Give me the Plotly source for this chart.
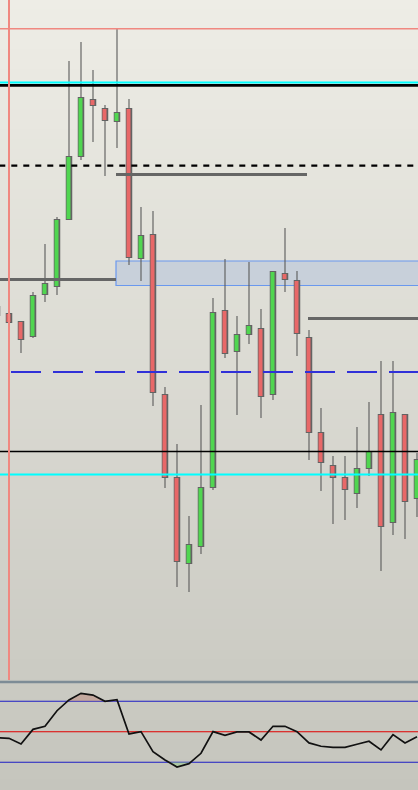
import numpy as np
import plotly.graph_objects as go

# ---------------- data ----------------
idx = list(range(36))
opens  = [1.2684, 1.2687, 1.2679, 1.2663, 1.2705, 1.2713, 1.2780, 1.2843, 1.2901, 1.2892,
          1.2878, 1.2892, 1.2741, 1.2766, 1.2606, 1.2523, 1.2436, 1.2453, 1.2512, 1.2690,
          1.2648, 1.2665, 1.2672, 1.2605, 1.2727, 1.2720, 1.2663, 1.2568, 1.2535, 1.2523,
          1.2506, 1.2531, 1.2586, 1.2477, 1.2586, 1.2501]
highs  = [1.2696, 1.2689, 1.2679, 1.2708, 1.2756, 1.2783, 1.2939, 1.2958, 1.2930, 1.2895,
          1.2972, 1.2901, 1.2793, 1.2789, 1.2613, 1.2556, 1.2484, 1.2595, 1.2702, 1.2741,
          1.2684, 1.2738, 1.2691, 1.2729, 1.2772, 1.2729, 1.2670, 1.2592, 1.2544, 1.2544,
          1.2573, 1.2598, 1.2639, 1.2639, 1.2586, 1.2547]
lows   = [1.2682, 1.2641, 1.2647, 1.2662, 1.2698, 1.2705, 1.2780, 1.2840, 1.2858, 1.2824,
          1.2852, 1.2735, 1.2719, 1.2594, 1.2512, 1.2413, 1.2408, 1.2446, 1.2510, 1.2642,
          1.2585, 1.2656, 1.2582, 1.2600, 1.2708, 1.2644, 1.2540, 1.2509, 1.2476, 1.2480,
          1.2492, 1.2524, 1.2429, 1.2465, 1.2461, 1.2483]
closes = [1.2694, 1.2677, 1.2660, 1.2705, 1.2717, 1.2781, 1.2844, 1.2903, 1.2894, 1.2879,
          1.2888, 1.2742, 1.2765, 1.2607, 1.2522, 1.2438, 1.2456, 1.2513, 1.2688, 1.2646,
          1.2666, 1.2675, 1.2603, 1.2729, 1.2720, 1.2666, 1.2567, 1.2537, 1.2522, 1.2510,
          1.2532, 1.2549, 1.2473, 1.2588, 1.2498, 1.2541]

osc = [46.1, 45.7, 42.0, 51.6, 53.6, 63.8, 70.9, 75.2, 74.1, 70.0,
       71.0, 48.6, 50.1, 37.0, 31.5, 26.9, 29.1, 35.9, 50.1, 47.7,
       49.9, 49.9, 44.6, 53.6, 53.6, 50.1, 42.7, 40.5, 39.8, 39.8,
       41.8, 43.8, 38.1, 48.1, 42.7, 46.8]
osc_upper, osc_mid, osc_lower = 70, 50, 30

red_level = 1.29713
cyan_top = 1.29175
black_top = 1.29147
black_dash = 1.28343
gray_zone_a = 1.28255
gray_zone_b = 1.27205
box_top, box_bottom = 1.2739, 1.27145
gray_zone_c = 1.26815
blue_dash = 1.2628
black_thin = 1.25485
cyan_low = 1.25255
marker_bar = 1

# ---------------- figure ----------------
W, H = 418, 790
PX = 0.0001  # one screen pixel in price units on the main panel
fig = go.Figure()

RED, GREEN, EDGE = "#E86868", "#50D650", "#636363"

# wicks (outside bodies)
wx, wy = [], []
for k, o, h, l, c in zip(idx, opens, highs, lows, closes):
    top, bot = max(o, c), min(o, c)
    if h > top:
        wx += [k, k, None]; wy += [h, top, None]
    if l < bot:
        wx += [k, k, None]; wy += [bot, l, None]
fig.add_trace(go.Scatter(x=wx, y=wy, mode="lines", line=dict(color="#5A5A5A", width=1.1),
                         hoverinfo="skip", showlegend=False, xaxis="x", yaxis="y"))

# body outlines
base = [min(o, c) for o, c in zip(opens, closes)]
hgt = [abs(c - o) for o, c in zip(opens, closes)]
fig.add_trace(go.Bar(x=idx, y=hgt, base=base, width=6.5 / 12, marker=dict(color=EDGE, line=dict(width=0)),
                     hoverinfo="skip", showlegend=False, xaxis="x", yaxis="y"))
# body fills
fcol = [GREEN if c >= o else RED for o, c in zip(opens, closes)]
fig.add_trace(go.Bar(x=[k - 0.5 / 12 for k in idx], y=[max(v - 2 * PX, 0.2 * PX) for v in hgt],
                     base=[b + PX for b in base], width=4 / 12,
                     marker=dict(color=fcol, line=dict(width=0)),
                     hoverinfo="skip", showlegend=False, xaxis="x", yaxis="y"))

# oscillator fills (geometry derived from the series)
def clipped(vals, lvl, above):
    xs, ys = [], []
    for i in range(len(vals)):
        v = vals[i]
        xs.append(idx[i]); ys.append(max(v, lvl) if above else min(v, lvl))
        if i + 1 < len(vals):
            a, b = vals[i], vals[i + 1]
            if (a - lvl) * (b - lvl) < 0:
                t = (lvl - a) / (b - a)
                xs.append(idx[i] + t); ys.append(lvl)
    return xs, ys

for lvl, above, col in [(osc_upper, True, "rgba(190,140,130,0.55)"), (osc_lower, False, "rgba(150,200,140,0.55)")]:
    xs, ys = clipped(osc, lvl, above)
    fig.add_trace(go.Scatter(x=xs, y=[lvl] * len(xs), mode="lines", line=dict(width=0),
                             hoverinfo="skip", showlegend=False, xaxis="x2", yaxis="y2"))
    fig.add_trace(go.Scatter(x=xs, y=ys, mode="lines", line=dict(width=0), fill="tonexty",
                             fillcolor=col, hoverinfo="skip", showlegend=False, xaxis="x2", yaxis="y2"))

fig.add_trace(go.Scatter(x=idx, y=osc, mode="lines", line=dict(color="#111111", width=1.7),
                         hoverinfo="skip", showlegend=False, xaxis="x2", yaxis="y2"))

shapes = []
# background gradient (whole page)
n = 79
top_c, bot_c = np.array([238, 237, 230]), np.array([197, 197, 189])
for i in range(n):
    t = (i + 0.5) / n
    c = (top_c * (1 - t) + bot_c * t).round().astype(int)
    shapes.append(dict(type="rect", xref="paper", yref="paper", x0=0, x1=1,
                       y0=1 - (i + 1) / n, y1=1 - i / n + 0.001, layer="below",
                       line=dict(width=0), fillcolor="rgb(%d,%d,%d)" % tuple(c)))

# zone rectangle
shapes.append(dict(type="rect", xref="x", yref="y", x0=(116 + 3) / 12, x1=40, y0=box_bottom, y1=box_top,
                   layer="below", fillcolor="rgba(180,195,220,0.55)",
                   line=dict(color="#6A98EE", width=1.2)))

def hline(y, color, width, x0=-3, x1=40, dash=None):
    d = dict(type="line", xref="x", yref="y", x0=x0, x1=x1, y0=y, y1=y,
             line=dict(color=color, width=width))
    if dash:
        d["line"]["dash"] = dash
    shapes.append(d)

hline(red_level, "#F08880", 1.5)
hline(cyan_top, "#00FFFF", 1.8)
hline(black_top, "#000000", 2.8)
hline(black_dash, "#000000", 2.3, x0=(-0.7 + 3) / 12, dash="6px,6px")
hline(gray_zone_a, "#666666", 3, x0=(116 + 3) / 12, x1=(307 + 3) / 12)
hline(gray_zone_b, "#666666", 3, x0=-3, x1=(116 + 3) / 12)
hline(gray_zone_c, "#666666", 3, x0=(308 + 3) / 12, x1=40)
hline(blue_dash, "#3030D8", 2.2, x0=(-31 + 3) / 12, dash="30px,12px")
hline(black_thin, "#000000", 1.3)
hline(cyan_low, "#00FFFF", 1.8)

# vertical marker line
shapes.append(dict(type="line", xref="x", yref="y domain", x0=marker_bar, x1=marker_bar, y0=0, y1=1,
                   line=dict(color="#F08880", width=2)))

# oscillator levels
for lvl, col in [(osc_upper, "#1C1CC4"), (osc_mid, "#E00000"), (osc_lower, "#1C1CC4")]:
    shapes.append(dict(type="line", xref="x2", yref="y2", x0=-3, x1=40, y0=lvl, y1=lvl,
                       line=dict(color=col, width=1.1), layer="below"))

# panel separator
shapes.append(dict(type="line", xref="paper", yref="paper", x0=0, x1=1,
                   y0=(H - 682) / H, y1=(H - 682) / H, line=dict(color="#7D8C96", width=2.5)))

xr = [(0 + 3) / 12, (W + 3) / 12]
ax = dict(showgrid=False, zeroline=False, showticklabels=False, ticks="", showline=False)
fig.update_layout(
    width=W, height=H, margin=dict(l=0, r=0, t=0, b=0),
    paper_bgcolor="#DDDCD4", plot_bgcolor="rgba(0,0,0,0)",
    barmode="overlay", showlegend=False, shapes=shapes,
    xaxis=dict(range=xr, domain=[0, 1], anchor="y", **ax),
    yaxis=dict(range=[1.2320, 1.3000], domain=[(H - 680) / H, 1], anchor="x", **ax),
    xaxis2=dict(range=xr, domain=[0, 1], anchor="y2", matches="x", **ax),
    yaxis2=dict(range=[11.8, 82.0], domain=[0, (H - 683) / H], anchor="x2", **ax),
)

fig.write_html("out.html", config={"displayModeBar": False},
               post_script="document.body.style.margin='0';document.body.style.padding='0';"
                           "document.documentElement.style.overflow='hidden';")
